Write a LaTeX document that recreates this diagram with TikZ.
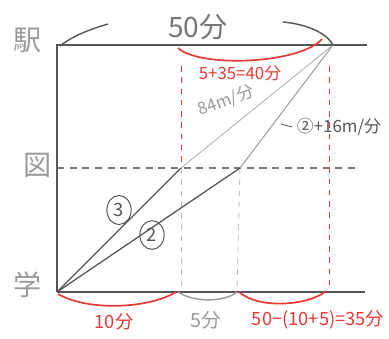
\documentclass[tikz,border=0pt]{standalone}
\usepackage{fontspec}
\setmainfont{Noto Sans CJK JP}
\usepackage{xcolor}
\usepackage{tikz}
\usetikzlibrary{calc,shapes.geometric}
\definecolor{penR}{HTML}{E53935}
\definecolor{penG}{HTML}{555555}
\definecolor{penL}{HTML}{9A9A9A}

\begin{document}
\begin{tikzpicture}[x=0.025cm,y=-0.025cm,
  frame/.style={line width=1.1pt, draw=penG},
  redarc/.style={line width=1.2pt, draw=penR},
  redtxt/.style={font=\fontsize{12}{14}\selectfont, text=penR},
  bigtxt/.style={font=\fontsize{20}{22}\selectfont, text=penG!80},
  place/.style={font=\fontsize{20}{22}\selectfont, text=penL},
  rdash/.style={line width=0.6pt, draw=penR, dash pattern=on 4pt off 4pt},
  gdash/.style={line width=0.6pt, draw=penL!60, dash pattern=on 4pt off 4pt},
  ring/.style={draw=penG, line width=0.7pt, ellipse, inner sep=2.5pt,
    font=\fontsize{13}{14}\selectfont, text=penG},
  ]
\useasboundingbox (0,0) rectangle (389,338);

% === points
\coordinate (gak) at (57,292);
\coordinate (eki) at (57,45);
\coordinate (zuL) at (57,168);
\coordinate (p3) at (181,168);
\coordinate (p2) at (240,168);
\coordinate (meet) at (333,45);

% === frame
\draw[frame] (gak) -- (eki) -- (367,45);
\draw[frame] (gak) -- (365,292);
\draw[line width=0.8pt, draw=penG!80, dash pattern=on 5pt off 4pt] (zuL) -- (360,168);

% === places
\node[place] (ekiL) at (28,40) {駅};
\node[place] (zuLbl) at (38,165) {図};
\node[place] (gakL) at (28,285) {学};

% === helper dashes
\draw[rdash] (181,66) -- (p3);
\draw[gdash] (p3) -- (181,290);
\draw[gdash] (p2) -- (237,290);
\draw[rdash] (329,66) -- (329,290);

% === runs
\draw[line width=0.9pt, draw=penG] (gak) -- (p3);
\draw[line width=0.6pt, draw=penL!80] (p3) -- (meet);
\draw[line width=0.9pt, draw=penG] (gak) -- (p2);
\draw[line width=0.7pt, draw=penL] (p2) -- (meet);
\node[ring] (r3) at (119,210) {3};
\node[ring] (r2) at (152,235) {2};

% === speeds
\node[font=\fontsize{12}{13}\selectfont, text=penL, rotate=20] (v3) at (226,101) {84m/分};
\coordinate (v2foot) at (281,124);
\node[font=\fontsize{12}{13}\selectfont, text=penG, anchor=west] (v2) at (292,127) {②+16m/分};
\draw[line width=0.6pt, draw=penG] (v2foot) -- (v2.west);

% === 50 min
\node[bigtxt] (t50) at (198,27) {50分};
\draw[line width=1pt, draw=penG] (60,46) .. controls (75,34) and (95,28) .. (108,24);
\draw[line width=1pt, draw=penG] (283,22) .. controls (305,24) and (326,32) .. (meet);

% === top red
\draw[redarc] (178,48) .. controls (200,68) and (300,64) .. (322,39);
\node[redtxt] (t40) at (240,73) {5+35=40分};

% === bottom
\draw[redarc] (58,294) .. controls (90,312) and (150,308) .. (176,292);
\draw[line width=1pt, draw=penL] (178,292) .. controls (195,303) and (225,302) .. (237,292);
\draw[redarc] (239,292) .. controls (260,310) and (310,305) .. (326,291);
\node[redtxt, font=\fontsize{13}{14}\selectfont] (t10) at (114,322) {10分};
\node[font=\fontsize{14}{15}\selectfont, text=penL] (t5) at (206,320) {5分};
\node[redtxt, font=\fontsize{13}{14}\selectfont] (t35) at (318,320) {50−(10+5)=35分};

\end{tikzpicture}
\end{document}
